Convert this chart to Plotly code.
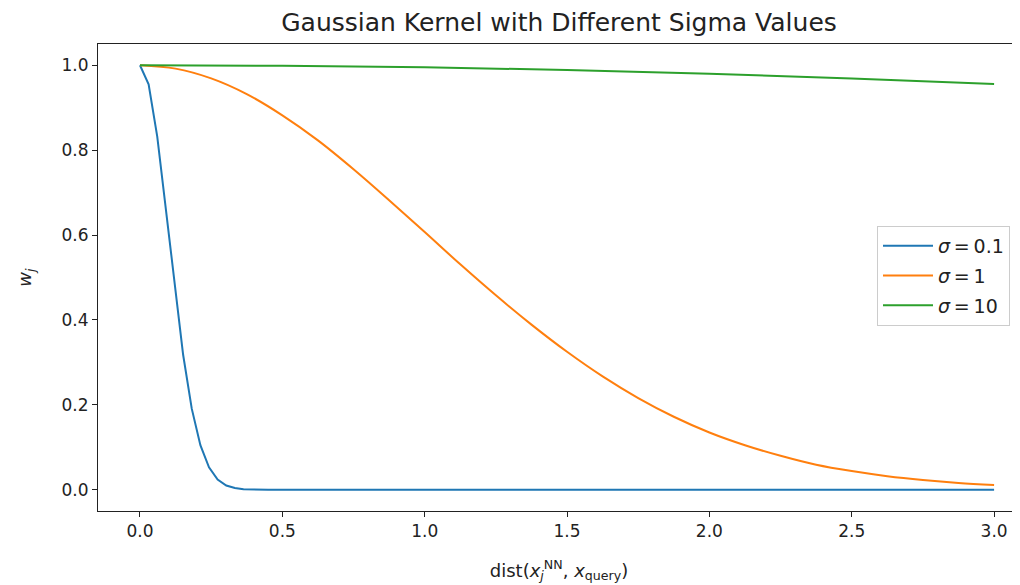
import plotly.graph_objects as go

x_s01 = [0.0, 0.0303, 0.0606, 0.0909, 0.1212, 0.1515, 0.1818, 0.2121, 0.2424, 0.2727,
         0.3030, 0.3333, 0.3636, 0.3939, 0.45, 0.5, 1.0, 1.5, 2.0, 2.5, 3.0]
y_s01 = [1.0, 0.955, 0.832, 0.662, 0.480, 0.318, 0.191, 0.105, 0.053, 0.024,
         0.010, 0.004, 0.0013, 0.0004, 0.0, 0.0, 0.0, 0.0, 0.0, 0.0, 0.0]

# Orange curve (sigma = 1)
x_s1 = [0.0, 0.125, 0.25, 0.375, 0.5, 0.625, 0.75, 0.875, 1.0, 1.125, 1.25, 1.375, 1.5,
        1.625, 1.75, 1.875, 2.0, 2.125, 2.25, 2.375, 2.5, 2.625, 2.75, 2.875, 3.0]
y_s1 = [1.0, 0.992, 0.969, 0.932, 0.882, 0.823, 0.755, 0.682, 0.607, 0.531, 0.458, 0.389, 0.325,
        0.267, 0.216, 0.172, 0.135, 0.105, 0.080, 0.059, 0.044, 0.032, 0.023, 0.016, 0.011]

# Green curve (sigma = 10)
x_s10 = [0.0, 0.5, 1.0, 1.5, 2.0, 2.5, 3.0]
y_s10 = [1.0, 0.9988, 0.995, 0.989, 0.980, 0.969, 0.956]

labels = ["<i>σ</i>\u2009=\u20090.1", "<i>σ</i>\u2009=\u20091", "<i>σ</i>\u2009=\u200910"]
colors = ["#1f77b4", "#ff7f0e", "#2ca02c"]
shapes = ["linear", "spline", "spline"]

fig = go.Figure()
for i, (xs, ys, lab, col, shp) in enumerate(zip([x_s01, x_s1, x_s10], [y_s01, y_s1, y_s10],
                                                labels, colors, shapes)):
    fig.add_trace(go.Scatter(x=xs, y=ys, mode="lines", name=lab, legendgroup=f"g{i}",
                             line=dict(color=col, width=2, shape=shp)))

txt = "#222222"
W, H = 1012, 577
L, R, T, B = 90, 0, 36, 74
pw, ph = W - L - R, H - T - B
fig.update_layout(
    width=W, height=H,
    margin=dict(l=L, r=R, t=T, b=B),
    plot_bgcolor="white", paper_bgcolor="white",
    font=dict(family="DejaVu Sans", size=17, color=txt),
    title=dict(text="Gaussian Kernel with Different Sigma Values", x=(L + pw / 2) / W,
               xanchor="center", xref="container", y=1 - 14 / H, yanchor="middle",
               yref="container",
               font=dict(family="DejaVu Sans", size=25, color=txt)),
    showlegend=True,
    legend=dict(x=(869 - L) / pw, xanchor="left", y=(H - B - 218) / ph, yanchor="top",
                bgcolor="rgba(255,255,255,0.8)", bordercolor="#cccccc", borderwidth=1,
                font=dict(family="DejaVu Sans", size=19, color=txt),
                tracegroupgap=2, itemwidth=50),
    xaxis=dict(range=[-0.1475, 3.091], tickvals=[0, 0.5, 1.0, 1.5, 2.0, 2.5, 3.0],
               ticktext=["0.0", "0.5", "1.0", "1.5", "2.0", "2.5", "3.0"],
               showgrid=False, zeroline=False, showline=True, linecolor=txt, linewidth=1,
               mirror=True, ticks="outside", ticklen=5, tickcolor=txt,
               title=dict(text="dist(<i>x</i><sub><i>j</i></sub><sup>NN</sup>, <i>x</i><sub>query</sub>)",
                          standoff=23, font=dict(family="DejaVu Sans", size=18, color=txt))),
    yaxis=dict(range=[-0.05, 1.05], tickvals=[0, 0.2, 0.4, 0.6, 0.8, 1.0],
               ticktext=["0.0", "0.2", "0.4", "0.6", "0.8", "1.0"],
               showgrid=False, zeroline=False, showline=True, linecolor=txt, linewidth=1,
               ticks="outside", ticklen=5, tickcolor=txt,
               title=dict(text="<i>w<sub>j</sub></i>", standoff=25,
                          font=dict(family="DejaVu Sans", size=18, color=txt))),
)

fig.write_html("out.html")
